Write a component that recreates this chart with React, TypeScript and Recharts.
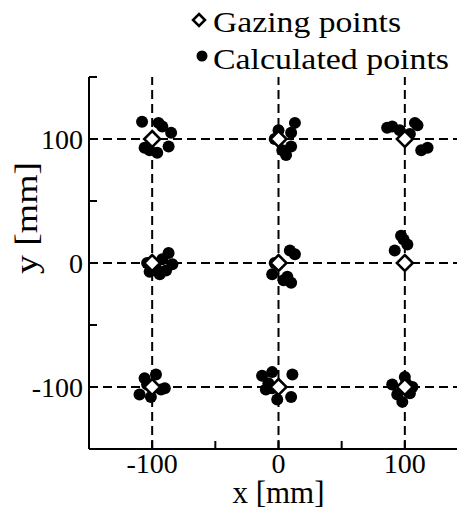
import React from "react";
import {
  ScatterChart,
  Scatter,
  XAxis,
  YAxis,
  ReferenceLine,
  Label,
} from "recharts";

// gazing (target) points
const gazeX = [-100, 0, 100, -100, 0, 100, -100, 0, 100];
const gazeY = [100, 100, 100, 0, 0, 0, -100, -100, -100];

// calculated points
const calcX = [
  -108, -95, -92, -85, -106, -102, -96, -87,
  13, 0, 10, 3, 6, 10, -3,
  86, 90, 96, 108, 110, 113, 118, 104,
  -87, -84, -102, -94, -89, -104, -92, -97,
  9, 13, -5, 7, 10, 4, -3,
  97, 102, 92, 99,
  -97, -106, -110, -93, -101, -104, -90,
  -13, -5, 11, -10, -5, 10, -1, -8,
  100, 90, 106, 98, 94, 104, 101,
];
const calcY = [
  114, 113, 110, 105, 93, 91, 89, 94,
  113, 107, 105, 91, 87, 94, 100,
  109, 110, 107, 113, 111, 91, 93, 104,
  8, -1, -7, -9, -6, 0, 3, -4,
  10, 7, -9, -11, -16, -14, 0,
  22, 15, 10, 19,
  -90, -93, -106, -102, -108, -98, -101,
  -91, -88, -90, -102, -101, -108, -110, -97,
  -92, -98, -100, -112, -106, -105, -97,
];

const axisTicks = [-150, -100, -50, 0, 50, 100, 150];
const labelled = [-100, 0, 100];
const gridValues = [-100, 0, 100];

const gazeData = gazeX.map((x, i) => ({ x, y: gazeY[i] }));
const calcData = calcX.map((x, i) => ({ x, y: calcY[i] }));

const SERIF = '"Liberation Serif", "Times New Roman", serif';
const tickStyle = { fontFamily: SERIF, fontSize: 28, fill: "#000" };
const fmt = (v: number) => (labelled.includes(v) ? String(v) : "");

const Diamond = (props: any) => {
  const { cx, cy } = props;
  const h = 8;
  return (
    <polygon
      points={`${cx},${cy - h} ${cx + h},${cy} ${cx},${cy + h} ${cx - h},${cy}`}
      fill="#fff"
      stroke="#000"
      strokeWidth={2.5}
    />
  );
};

const Dot = (props: any) => <circle cx={props.cx} cy={props.cy} r={6} fill="#000" />;

export default function App() {
  return (
    <div style={{ position: "relative", width: 480, height: 510 }}>
      <ScatterChart width={480} height={510} margin={{ top: 69, right: 20, bottom: 0, left: 0 }}>
        <XAxis
          type="number"
          dataKey="x"
          domain={[-150, 150]}
          ticks={axisTicks}
          interval={0}
          tickFormatter={fmt}
          height={69}
          tickSize={-8}
          tickMargin={12}
          tick={tickStyle}
          axisLine={{ stroke: "#000", strokeWidth: 2 }}
          tickLine={{ stroke: "#000", strokeWidth: 2 }}
        >
          <Label
            value="x [mm]"
            position="insideBottom"
            offset={15}
            style={{ fontFamily: SERIF, fontSize: 31, fill: "#000" }}
          />
        </XAxis>
        <XAxis
          xAxisId="top"
          orientation="top"
          type="number"
          domain={[-150, 150]}
          ticks={axisTicks}
          interval={0}
          height={0}
          tick={false}
          tickSize={-8}
          axisLine={{ stroke: "#000", strokeWidth: 2 }}
          tickLine={{ stroke: "#000", strokeWidth: 2 }}
        />
        <YAxis
          type="number"
          dataKey="y"
          domain={[-150, 150]}
          ticks={axisTicks}
          interval={0}
          tickFormatter={fmt}
          width={81}
          tickSize={-8}
          tickMargin={14}
          tick={tickStyle}
          axisLine={{ stroke: "#000", strokeWidth: 2 }}
          tickLine={{ stroke: "#000", strokeWidth: 2 }}
        >
          <Label
            content={() => (
              <text
                x={29}
                y={210}
                transform="rotate(-90 29 210)"
                textAnchor="middle"
                textLength={112}
                lengthAdjust="spacingAndGlyphs"
                style={{ fontFamily: SERIF, fontSize: 31, fill: "#000" }}
              >
                y [mm]
              </text>
            )}
          />
        </YAxis>
        <YAxis
          yAxisId="right"
          orientation="right"
          type="number"
          domain={[-150, 150]}
          ticks={axisTicks}
          interval={0}
          width={0}
          tick={false}
          tickSize={-8}
          axisLine={{ stroke: "#000", strokeWidth: 2 }}
          tickLine={{ stroke: "#000", strokeWidth: 2 }}
        />
        {gridValues.map((v) => (
          <ReferenceLine key={"vx" + v} x={v} stroke="#000" strokeWidth={2} strokeDasharray="9 5" />
        ))}
        {gridValues.map((v) => (
          <ReferenceLine key={"hy" + v} y={v} stroke="#000" strokeWidth={2} strokeDasharray="9 5" />
        ))}
        <Scatter name="Calculated points" data={calcData} shape={Dot} isAnimationActive={false} />
        <Scatter name="Gazing points" data={gazeData} shape={Diamond} isAnimationActive={false} />
      </ScatterChart>

      {/* legend, drawn over the chart */}
      <svg width={480} height={70} style={{ position: "absolute", left: 0, top: 0 }}>
        <polygon points="191,6 197,12 191,18 185,12" fill="#fff" stroke="#000" strokeWidth={2.5} />
        <text x={205} y={24} fontFamily={SERIF} fontSize={30} fill="#000" textLength={188} lengthAdjust="spacingAndGlyphs">
          Gazing points
        </text>
        <circle cx={194} cy={48} r={5.5} fill="#000" />
        <text x={205} y={61} fontFamily={SERIF} fontSize={30} fill="#000" textLength={236} lengthAdjust="spacingAndGlyphs">
          Calculated points
        </text>
      </svg>
    </div>
  );
}
